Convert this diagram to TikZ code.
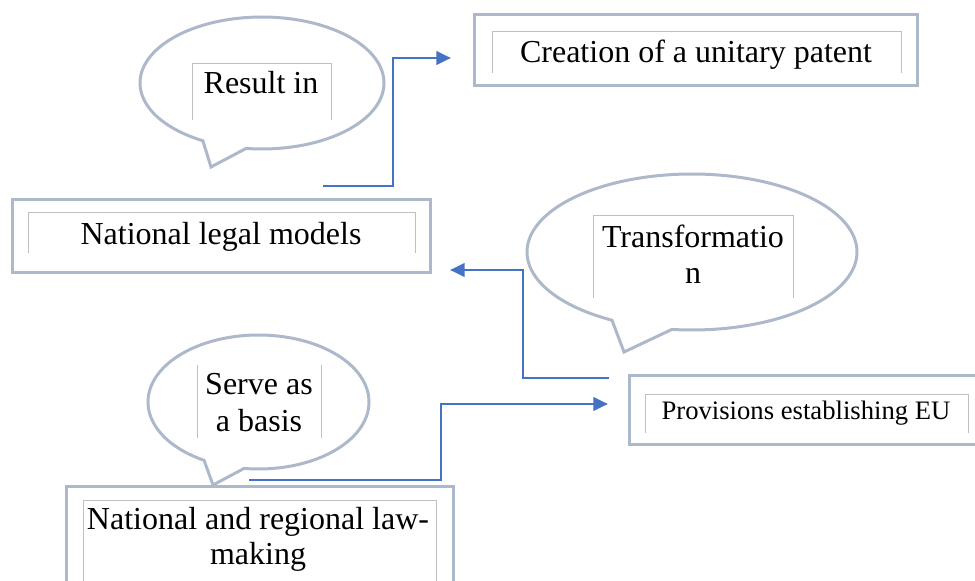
\documentclass[tikz,border=0pt]{standalone}
\usepackage{fontspec}
\setmainfont{Liberation Serif}
\usetikzlibrary{arrows.meta}
\definecolor{outl}{HTML}{ADB9CA}
\definecolor{innl}{HTML}{BFBFBF}
\definecolor{connc}{HTML}{4472C4}
\begin{document}
\begin{tikzpicture}[x=0.75pt,y=-0.75pt,
  outer/.style={draw=outl, line width=2.25pt},
  inner/.style={draw=innl, line width=0.75pt},
  conn/.style={draw=connc, line width=2.1pt, -{Triangle[length=11pt,width=10pt]}},
  lbl/.style={font=\fontsize{24}{27}\selectfont, inner sep=0pt, align=center, anchor=base},
  lblsmall/.style={font=\fontsize{20}{24}\selectfont, inner sep=0pt, align=center, anchor=base}]
\useasboundingbox (0,0) rectangle (975,581);
\clip (0,0) rectangle (975,581);

% Box: Creation of a unitary patent
\draw[outer] (474,15) rectangle (917,86);
\draw[inner] (492,73) -- (492,32) -- (901,32) -- (901,73);
\node[lbl] (creation) at (696,63) {Creation of a unitary patent};

% Box: National legal models
\draw[outer] (12,200) rectangle (430,272);
\draw[inner] (28,253) -- (28,213) -- (415,213) -- (415,253);
\node[lbl] (legal) at (221,245) {National legal models};

% Box: Provisions establishing EU
\draw[outer] (629,375) rectangle (990,444);
\draw[inner] (645,433) -- (645,394) -- (968,394) -- (968,433);
\node[lblsmall] (prov) at (806,419) {Provisions establishing EU};

% Box: National and regional law-making
\draw[outer] (66,486) rectangle (453,600);
\draw[inner] (83,600) -- (83,500) -- (436,500) -- (436,600);
\node[lbl, font=\fontsize{24}{26.25}\selectfont] (lawmaking) at (258,564) {National and regional law-\\making};

% Bubble: Result in
\draw[outer] plot[domain=119:457.5, samples=140] ({262+122*cos(\x)},{83+66*sin(\x)}) -- (211,167) -- cycle;
\draw[inner] (192,120) -- (192,64) -- (331,64) -- (331,120);
\node[lbl] (result) at (261,94) {Result in};

% Bubble: Transformation
\draw[outer] plot[domain=119:457, samples=160] ({692+165*cos(\x)},{252+78*sin(\x)}) -- (624,352) -- cycle;
\draw[inner] (593,298) -- (593,216) -- (793,216) -- (793,298);
\node[lbl] (transf) at (693,283) {Transformatio\\n};

% Bubble: Serve as a basis
\draw[outer] plot[domain=119.5:457.5, samples=140] ({258.5+110.5*cos(\x)},{402+67*sin(\x)}) -- (213,485) -- cycle;
\draw[inner] (197,365) -- (197,438);
\draw[inner] (321,365) -- (321,438);
\node[lbl, font=\fontsize{24}{27.75}\selectfont] (serve) at (259,431) {Serve as\\a basis};

% Connectors
\coordinate (c1s) at (323,186);
\coordinate (c1m) at (393,58);
\coordinate (c1e) at (451,58);
\draw[conn] (c1s) -| (c1m) -- (c1e);

\coordinate (c2s) at (609,378);
\coordinate (c2m) at (523,270);
\coordinate (c2e) at (450,270);
\draw[conn] (c2s) -| (c2m) -- (c2e);

\coordinate (c3s) at (249,480);
\coordinate (c3m) at (441,404);
\coordinate (c3e) at (608,404);
\draw[conn] (c3s) -| (c3m) -- (c3e);
\end{tikzpicture}
\end{document}
